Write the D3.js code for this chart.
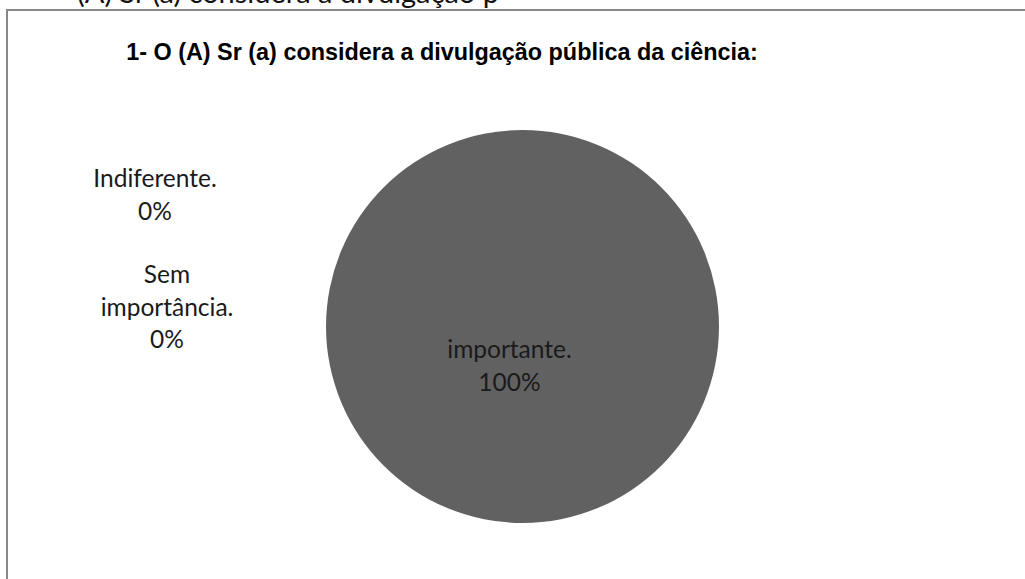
<!DOCTYPE html>
<html>
<head>
<meta charset="utf-8">
<script src="https://cdn.jsdelivr.net/npm/d3@7"></script>
<style>
  html, body { margin: 0; padding: 0; background: #fff; overflow: hidden; }
  svg { display: block; }
</style>
</head>
<body>
<svg id="chart" width="1025" height="579"></svg>
<script>
// Survey answers for question 1
const categories = ["importante.", "Indiferente.", "Sem importância."];
const percentages = [100, 0, 0];
const titleText = "1- O (A) Sr (a) considera a divulgação pública da ciência:";
const headerText = "(A) Sr (a) considera a divulgação p";

const svg = d3.select("#chart");
const W = 1025, H = 579;
const labelFont = "Lato, 'Open Sans', sans-serif";

// text line from the page above the chart frame (cut by the top edge)
svg.append("text")
  .attr("x", 77).attr("y", 3)
  .attr("font-family", labelFont)
  .attr("font-size", 29)
  .attr("fill", "#111")
  .text(headerText);

// chart frame (runs off the right and bottom edges)
svg.append("rect")
  .attr("x", 7).attr("y", 10)
  .attr("width", W + 20).attr("height", H + 20)
  .attr("fill", "#fff")
  .attr("stroke", "#888")
  .attr("stroke-width", 2);

// title
svg.append("text")
  .attr("x", 442).attr("y", 60)
  .attr("text-anchor", "middle")
  .attr("font-family", "'Liberation Sans', Arial, sans-serif")
  .attr("font-weight", "bold")
  .attr("font-size", 23.4)
  .attr("fill", "#000")
  .text(titleText);

// pie
const cx = 522.5, cy = 326.5, radius = 196.5;
const data = categories.map((c, i) => ({ label: c, value: percentages[i] }));
const pie = d3.pie().value(d => d.value).sort(null);
const arc = d3.arc().innerRadius(0).outerRadius(radius);
const color = d3.scaleOrdinal().domain(categories).range(["#616161", "#8c8c8c", "#b5b5b5"]);

const g = svg.append("g").attr("transform", `translate(${cx},${cy})`);
const arcs = pie(data);
g.selectAll("path")
  .data(arcs)
  .join("path")
  .attr("d", arc)
  .attr("fill", d => color(d.data.label));

// data labels: "category" + "percent", wrapped as Excel does
const fmt = v => d3.format(".0f")(v) + "%";
const labelLines = {
  "importante.": ["importante.", null],
  "Indiferente.": ["Indiferente.", null],
  "Sem importância.": ["Sem", "importância.", null]
};
// label anchor (centre x, first baseline y) relative to pie centre
const labelAnchor = {
  "importante.": [-13, 31.5],
  "Indiferente.": [-367.5, -139.5],
  "Sem importância.": [-355.5, -43.5]
};
const lineH = 32.5;

arcs.forEach(a => {
  const lab = a.data.label;
  const lines = labelLines[lab].map(s => s === null ? fmt(a.data.value) : s);
  const [dx, dy] = labelAnchor[lab];
  const t = g.append("text")
    .attr("text-anchor", "middle")
    .attr("font-family", labelFont)
    .attr("font-size", 24.5)
    .attr("fill", "#1a1a1a");
  lines.forEach((s, i) => {
    t.append("tspan")
      .attr("x", dx)
      .attr("y", dy + i * lineH)
      .text(s);
  });
});
</script>
</body>
</html>
